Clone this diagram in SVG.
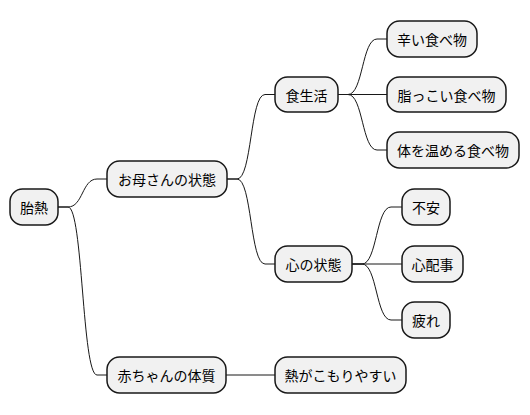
<svg xmlns="http://www.w3.org/2000/svg" width="530" height="415" viewBox="0 0 530 415">
<style>
.n rect{fill:#F1F1F1;stroke:#181818;stroke-width:1.5}
.n text{font-family:"Noto Sans CJK JP","Noto Sans",sans-serif;font-size:14px;fill:#000;text-anchor:middle;dominant-baseline:central}
.c path{fill:none;stroke:#181818;stroke-width:1}
</style>
<rect width="530" height="415" fill="#FFFFFF"/>
<g class="c">
<path d="M58,207 L68,207 C83,207 82,179 97,179 L107,179"/>
<path d="M58,207 L68,207 C83,207 82,375 97,375 L107,375"/>
<path d="M227,179 L237,179 C252,179 250,94.5 265,94.5 L275,94.5"/>
<path d="M227,179 L237,179 C252,179 250,264 265,264 L275,264"/>
<path d="M338,94.5 L348,94.5 C363,94.5 362,39 377,39 L387,39"/>
<path d="M338,94.5 L387,94.5"/>
<path d="M338,94.5 L348,94.5 C363,94.5 362,150 377,150 L387,150"/>
<path d="M352,264 L362,264 C377,264 376,207 391,207 L402,207"/>
<path d="M352,264 L402,264"/>
<path d="M352,264 L362,264 C377,264 376,320 391,320 L402,320"/>
<path d="M226,375 L275,375"/>
</g>
<g id="n1" class="n"><rect x="10" y="189" width="48" height="36" rx="12.5"/><text x="34" y="207">胎熱</text></g>
<g id="n2" class="n"><rect x="107" y="161" width="120" height="36" rx="12.5"/><text x="167" y="179">お母さんの状態</text></g>
<g id="n3" class="n"><rect x="275" y="77" width="63" height="35" rx="12.5"/><text x="306.5" y="94.5">食生活</text></g>
<g id="n4" class="n"><rect x="387" y="21" width="90" height="36" rx="12.5"/><text x="432" y="39">辛い食べ物</text></g>
<g id="n5" class="n"><rect x="387" y="77" width="119" height="35" rx="12.5"/><text x="446.5" y="94.5">脂っこい食べ物</text></g>
<g id="n6" class="n"><rect x="387" y="132" width="132" height="36" rx="12.5"/><text x="453" y="150">体を温める食べ物</text></g>
<g id="n7" class="n"><rect x="275" y="246" width="77" height="36" rx="12.5"/><text x="313.5" y="264">心の状態</text></g>
<g id="n8" class="n"><rect x="402" y="189" width="48" height="36" rx="12.5"/><text x="426" y="207">不安</text></g>
<g id="n9" class="n"><rect x="402" y="246" width="61" height="36" rx="12.5"/><text x="432.5" y="264">心配事</text></g>
<g id="n10" class="n"><rect x="402" y="302" width="48" height="36" rx="12.5"/><text x="426" y="320">疲れ</text></g>
<g id="n11" class="n"><rect x="107" y="357" width="119" height="36" rx="12.5"/><text x="166.5" y="375">赤ちゃんの体質</text></g>
<g id="n12" class="n"><rect x="275" y="357" width="131" height="36" rx="12.5"/><text x="340.5" y="375">熱がこもりやすい</text></g>
</svg>
